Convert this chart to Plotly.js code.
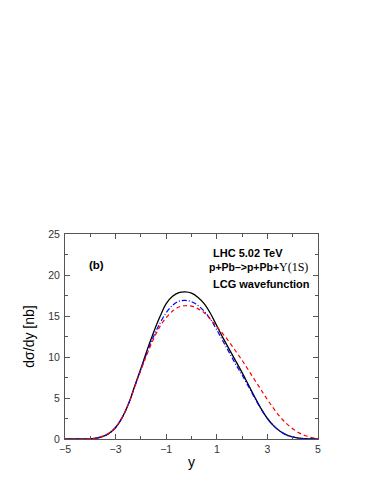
<!DOCTYPE html>
<html>
<head>
<meta charset="utf-8">
<script src="https://cdn.plot.ly/plotly-3.0.1.min.js"></script>
<style>
  html, body { margin: 0; padding: 0; background: #fff; }
  #chart { width: 383px; height: 495px; }
</style>
</head>
<body>
<div id="chart"></div>
<script>
// rapidity grid
const rapidity = [-5, -4.75, -4.5, -4.25, -4, -3.75, -3.5, -3.25, -3, -2.75, -2.5, -2.25, -2, -1.75, -1.5, -1.25, -1, -0.75, -0.5, -0.25,
  0, 0.25, 0.5, 0.75, 1, 1.25, 1.5, 1.75, 2, 2.25, 2.5, 2.75, 3, 3.25, 3.5, 3.75, 4, 4.25, 4.5, 4.75, 5];

// dσ/dy [nb]
const blackSolid = [0, 0, 0, 0.01, 0.03, 0.12, 0.32, 0.7, 1.4, 2.55, 4.2, 6.4, 8.6, 10.9, 13.0, 14.9, 16.5, 17.4, 17.85, 17.95,
  17.8, 17.3, 16.5, 15.3, 13.8, 12.3, 10.9, 9.5, 8.1, 6.6, 5.1, 3.7, 2.5, 1.6, 0.95, 0.5, 0.25, 0.1, 0.04, 0.01, 0];
const blueDashDot = [0, 0, 0, 0.01, 0.03, 0.12, 0.32, 0.7, 1.4, 2.55, 4.2, 6.35, 8.5, 10.6, 12.5, 14.1, 15.4, 16.3, 16.8, 16.9,
  16.75, 16.3, 15.6, 14.6, 13.3, 11.9, 10.5, 9.1, 7.8, 6.4, 5.0, 3.65, 2.5, 1.6, 0.95, 0.5, 0.25, 0.1, 0.04, 0.01, 0];
const redDash = [0, 0, 0, 0.01, 0.04, 0.14, 0.35, 0.75, 1.45, 2.6, 4.2, 6.3, 8.4, 10.4, 12.2, 13.7, 14.8, 15.6, 16.1, 16.25,
  16.2, 15.9, 15.4, 14.6, 13.7, 12.8, 11.8, 10.7, 9.6, 8.4, 7.2, 6.0, 4.8, 3.7, 2.7, 1.9, 1.25, 0.75, 0.4, 0.18, 0.05];

const xTicks = [-5, -3, -1, 1, 3, 5];
const yTicks = [0, 5, 10, 15, 20, 25];

const traces = [
  { x: rapidity, y: blackSolid, mode: 'lines', line: { color: '#000', width: 1.3, shape: 'spline' } },
  { x: rapidity, y: blueDashDot, mode: 'lines', line: { color: '#0000ff', width: 1.2, dash: '5px,2px,1px,2px', shape: 'spline' } },
  { x: rapidity, y: redDash, mode: 'lines', line: { color: '#ff0000', width: 1.2, dash: '4px,3px', shape: 'spline' } }
];

const axisCommon = {
  showline: true, linecolor: '#555', linewidth: 1, mirror: 'allticks',
  ticks: 'inside', ticklen: 5, tickcolor: '#555', tickwidth: 1,
  showgrid: false, zeroline: false,
  tickfont: { family: 'Liberation Sans, Arial, sans-serif', size: 10.5, color: '#333' }
};

const bodyFont = { family: 'Liberation Sans, Arial, sans-serif', size: 11, color: '#000', weight: 'bold' };

const layout = {
  width: 383, height: 495,
  margin: { l: 65, r: 65, t: 234, b: 56 },
  paper_bgcolor: '#fff', plot_bgcolor: '#fff',
  showlegend: false,
  xaxis: Object.assign({}, axisCommon, {
    range: [-5, 5], tickvals: xTicks,
    minor: { dtick: 1, tick0: 0, ticks: 'inside', ticklen: 3, tickcolor: '#555' },
    title: { text: 'y', font: { family: 'Liberation Sans, Arial, sans-serif', size: 14, color: '#000' }, standoff: 3 }
  }),
  yaxis: Object.assign({}, axisCommon, {
    range: [0, 25], tickvals: yTicks, ticklabelstandoff: 2,
    minor: { dtick: 2.5, tick0: 0, ticks: 'inside', ticklen: 3, tickcolor: '#555' },
    title: { text: 'dσ/dy [nb]', font: { family: 'Liberation Sans, Arial, sans-serif', size: 14, color: '#000' }, standoff: 10 }
  }),
  annotations: [
    { x: -4.15, y: 21.2, xref: 'x', yref: 'y', xanchor: 'left', yanchor: 'middle', showarrow: false,
      text: '(b)', font: Object.assign({}, bodyFont, { size: 11.5 }) },
    { x: 0.76, y: 22.65, xref: 'x', yref: 'y', xanchor: 'left', yanchor: 'middle', showarrow: false,
      text: 'LHC 5.02 TeV', font: bodyFont },
    { x: 0.6, y: 20.95, xref: 'x', yref: 'y', xanchor: 'left', yanchor: 'middle', showarrow: false,
      text: "p+Pb–>p+Pb+<span style=\"font-family:'Liberation Serif',serif;font-weight:normal;font-size:12px\">Υ(1S)</span>",
      font: Object.assign({}, bodyFont, { size: 10.5 }) },
    { x: 0.76, y: 18.9, xref: 'x', yref: 'y', xanchor: 'left', yanchor: 'middle', showarrow: false,
      text: 'LCG wavefunction', font: bodyFont }
  ]
};

Plotly.newPlot('chart', traces, layout, { staticPlot: true, displayModeBar: false });
</script>
</body>
</html>
